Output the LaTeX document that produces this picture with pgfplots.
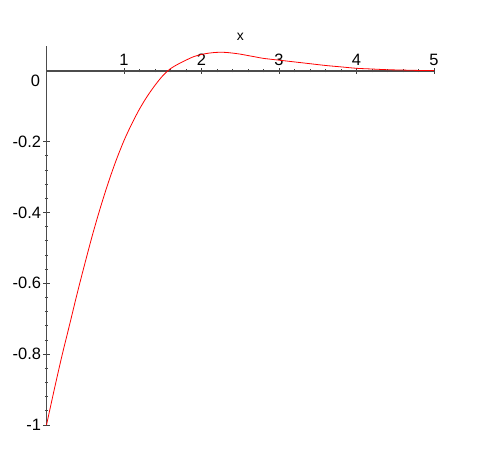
\documentclass[border=0pt]{standalone}
\usepackage{fontspec}
\setmainfont{Liberation Sans}
\usepackage{pgfplots}
\pgfplotsset{compat=1.18}

\begin{document}
\begin{tikzpicture}[x=1bp,y=1bp]
% page frame = 493 x 476 px of the reference, axis box at (0,0)-(387.5,379)
\useasboundingbox (-46.5,-51) rectangle (446.5,425);
\begin{axis}[
    at={(0,0)}, anchor=south west,
    width=387.5bp, height=379bp, scale only axis,
    xmin=0, xmax=5,
    ymin=-1, ymax=0.07,
    axis lines=middle,
    axis line style={draw=black!70, line width=1.6bp, -},
    xtick={1,2,3,4,5},
    xticklabels={1,2,3,4,5},
    ytick={-1,-0.8,-0.6,-0.4,-0.2},
    yticklabels={-1,-0.8,-0.6,-0.4,-0.2},
    extra y ticks={0},
    extra y tick labels={0},
    extra y tick style={
        major tick length=0pt,
        yticklabel style={anchor=north east, xshift=-4bp, yshift=-1bp},
    },
    hide obscured y ticks=false,
    minor x tick num=4,
    minor y tick num=4,
    tick align=center,
    major tick length=6bp,
    minor tick length=3bp,
    tick style={draw=black!75, line width=0.9bp},
    ticklabel style={font=\fontsize{16.5}{18}\selectfont, text=black},
    xticklabel style={anchor=south, yshift=5bp},
    yticklabel style={anchor=east, xshift=1bp},
    xlabel={x},
    xlabel style={at={(rel axis cs:0.5,1)}, anchor=south, yshift=2bp,
        font=\fontsize{14}{16}\selectfont},
    clip=false,
]
% damped oscillation
\addplot[color=red, line width=0.8bp, smooth] coordinates {
    (0,-1) (0.1,-0.900) (0.2,-0.804) (0.3,-0.715) (0.4,-0.625)
    (0.5,-0.540) (0.6,-0.458) (0.7,-0.383) (0.8,-0.314) (0.9,-0.252)
    (1.0,-0.197) (1.1,-0.150) (1.2,-0.108) (1.3,-0.072) (1.4,-0.041)
    (1.5,-0.014) (1.6,0.006) (1.7,0.019) (1.8,0.030) (1.9,0.040)
    (2.0,0.046) (2.1,0.050) (2.2,0.052) (2.3,0.052) (2.4,0.050)
    (2.5,0.047) (2.6,0.043) (2.7,0.039) (2.8,0.035) (3.0,0.030)
    (3.2,0.025) (3.4,0.020) (3.6,0.015) (3.8,0.011) (4.0,0.007)
    (4.2,0.005) (4.4,0.003) (4.6,0.002) (4.8,0.001) (5.0,0.001)
};
\end{axis}
\end{tikzpicture}
\end{document}
